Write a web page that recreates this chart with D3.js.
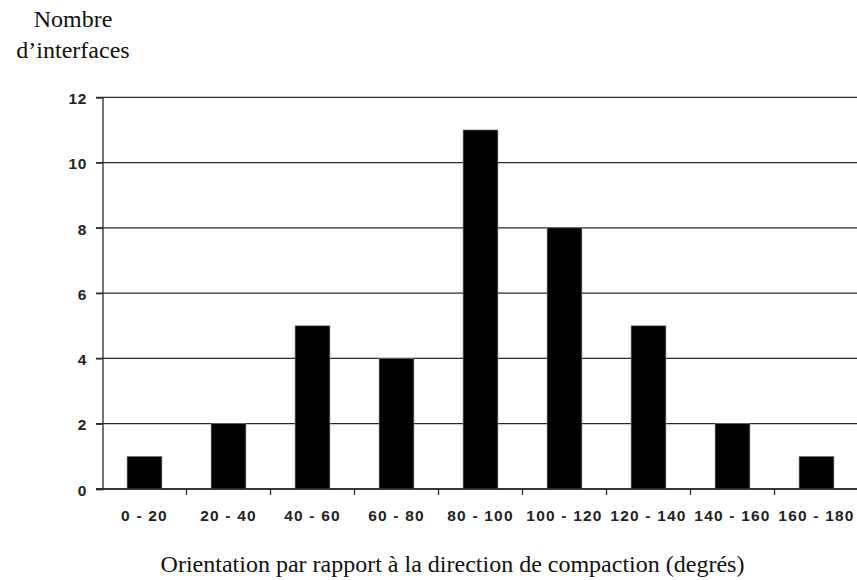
<!DOCTYPE html>
<html><head><meta charset="utf-8">
<script src="https://cdn.jsdelivr.net/npm/d3@7"></script>
<style>body{margin:0;background:#fff}svg{display:block}</style>
</head><body>
<svg id="c" width="857" height="580"></svg>
<script>
const categories = ["0 - 20","20 - 40","40 - 60","60 - 80","80 - 100","100 - 120","120 - 140","140 - 160","160 - 180"];
const values = [1,2,5,4,11,8,5,2,1];
const yTicks = [0,2,4,6,8,10,12];
const yTitle = ["Nombre","d\u2019interfaces"];
const xTitle = "Orientation par rapport \u00e0 la direction de compaction (degr\u00e9s)";

const svg = d3.select("#c");
const x = d3.scaleBand().domain(categories).range([102.5, 858.5]).paddingInner(0.585).paddingOuter(0.2925);
const y = d3.scaleLinear().domain([0,12]).range([489, 97.3]);
const lineCol = "#2a2a2a";
const tickFont = "Liberation Sans, Arial, sans-serif";
const serif = "Liberation Serif, Times New Roman, serif";

// gridlines
svg.append("g").selectAll("line").data(yTicks).join("line")
  .attr("x1", 96).attr("x2", 857)
  .attr("y1", d => y(d)).attr("y2", d => y(d))
  .attr("stroke", lineCol).attr("stroke-width", 1.3);

// bars
svg.append("g").selectAll("rect").data(values).join("rect")
  .attr("x", (d,i) => x(categories[i]))
  .attr("width", x.bandwidth())
  .attr("y", d => y(d))
  .attr("height", d => y(0) - y(d))
  .attr("fill", "#000").attr("stroke", "#888").attr("stroke-width", 0.6);

// y axis
const ya = svg.append("g").attr("transform", "translate(102.5,0)")
  .call(d3.axisLeft(y).tickValues(yTicks).tickSize(6.5).tickPadding(9).tickFormat(d3.format("d")));
ya.attr("font-size", null).attr("font-family", null);
ya.select(".domain").attr("stroke", lineCol).attr("stroke-width", 1.3);
ya.selectAll(".tick line").attr("stroke", lineCol).attr("stroke-width", 1.3);
ya.selectAll("text")
  .style("font-family", tickFont).style("font-weight", "bold")
  .style("font-size", "15.5px").style("letter-spacing", "0.6px")
  .attr("dy", "0.4em").attr("fill", "#222");

// x axis
const xb = d3.scaleLinear().domain([0, categories.length]).range([102.5, 858.5]);
const xa = svg.append("g").attr("transform", "translate(0,489)");
xa.append("line").attr("x1", 96).attr("x2", 857).attr("stroke", lineCol).attr("stroke-width", 1.3);
xa.selectAll("line.t").data(d3.range(1, categories.length)).join("line").attr("class","t")
  .attr("x1", d => xb(d)).attr("x2", d => xb(d)).attr("y1", 0).attr("y2", 6)
  .attr("stroke", lineCol).attr("stroke-width", 1.3);
xa.selectAll("text").data(categories).join("text")
  .attr("x", d => x(d) + x.bandwidth()/2).attr("y", 31.5)
  .attr("text-anchor", "middle")
  .style("font-family", tickFont).style("font-weight", "bold").style("font-size", "15.5px")
  .style("letter-spacing", "1.2px").attr("fill", "#222")
  .text(d => d);

// titles
svg.append("g").selectAll("text").data(yTitle).join("text")
  .attr("x", 73).attr("y", (d,i) => 27 + i*31)
  .attr("text-anchor", "middle")
  .style("font-family", serif).style("font-size", "24px").attr("fill", "#111")
  .text(d => d);
svg.append("text").attr("x", 452.5).attr("y", 572).attr("text-anchor", "middle")
  .style("font-family", serif).style("font-size", "24px").attr("fill", "#111")
  .text(xTitle);
</script>
</body></html>
